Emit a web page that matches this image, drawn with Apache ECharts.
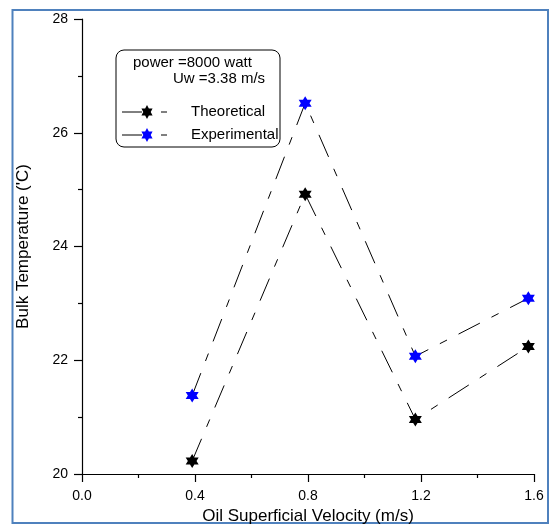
<!DOCTYPE html>
<html><head><meta charset="utf-8">
<script src="https://cdn.jsdelivr.net/npm/echarts@6/dist/echarts.min.js"></script>
<style>html,body{margin:0;padding:0;background:#fff}#c{width:551px;height:525px}</style>
</head><body><div id="c"></div>
<script>
// ---- data ----
const velocity = [0.39, 0.79, 1.18, 1.58];
const theoretical = [20.23, 24.92, 20.96, 22.24];
const experimental = [21.38, 26.52, 22.07, 23.09];
const xRange = [0, 1.6];
const xStep = 0.4;
const yRange = [20, 28];
const yStep = 2;
const seriesNames = ['Theoretical', 'Experimental'];
const noteLines = ['power =8000 watt', 'Uw =3.38 m/s'];

const FONT = '"Liberation Sans", Arial, sans-serif';
const STAR = 'path://M100,0L128.9,50L186.6,50L157.7,100L186.6,150L128.9,150L100,200L71.1,150L13.4,150L42.3,100L13.4,50L71.1,50Z';
const DASH = [24, 13, 8, 13];

const chart = echarts.init(document.getElementById('c'), null, {renderer: 'canvas'});

function axisCommon() {
  return {
    axisLine: {show: true, lineStyle: {color: '#000', width: 1.2}},
    axisTick: {show: true, inside: false, length: 8, lineStyle: {color: '#000', width: 1.2}},
    minorTick: {show: true, splitNumber: 2, length: 4, lineStyle: {color: '#000', width: 1.2}},
    splitLine: {show: false},
    minorSplitLine: {show: false},
    nameTextStyle: {color: '#000', fontSize: 17, fontFamily: FONT},
  };
}

// hexagram polygon for the legend
function starPoints(cx, cy) {
  const pts = [];
  const R = 7, r = R / Math.sqrt(3);
  for (let k = 0; k < 12; k++) {
    const a = -Math.PI / 2 + k * Math.PI / 6;
    const rad = k % 2 === 0 ? R : r;
    pts.push([cx + rad * Math.cos(a) * 0.92, cy + rad * Math.sin(a)]);
  }
  return pts;
}
const legendStar = (cx, cy, color) => ({
  type: 'polygon', shape: {points: starPoints(cx, cy)}, style: {fill: color}, z: 100
});
const legendLines = (cy) => ([
  {type: 'line', shape: {x1: 122, y1: cy, x2: 142, y2: cy}, style: {stroke: '#000', lineWidth: 1}, z: 100},
  {type: 'line', shape: {x1: 161, y1: cy, x2: 167, y2: cy}, style: {stroke: '#000', lineWidth: 1}, z: 100}
]);

const option = {
  animation: false,
  backgroundColor: '#fff',
  grid: {left: 82, right: 17, top: 19, bottom: 51, containLabel: false, outerBoundsMode: 'none'},
  xAxis: Object.assign(axisCommon(), {
    type: 'value', min: xRange[0], max: xRange[1], interval: xStep,
    name: 'Oil Superficial Velocity (m/s)', nameLocation: 'middle', nameGap: 33,
    axisLabel: {color: '#000', fontSize: 14, fontFamily: FONT, margin: 15,
      formatter: v => v.toFixed(1)}
  }),
  yAxis: Object.assign(axisCommon(), {
    type: 'value', min: yRange[0], max: yRange[1], interval: yStep,
    name: "Bulk Temperature ('C)", nameLocation: 'middle', nameGap: 50,
    axisLabel: {color: '#000', fontSize: 14, fontFamily: FONT, margin: 14}
  }),
  series: [
    {
      type: 'line', name: seriesNames[0],
      data: velocity.map((v, i) => [v, theoretical[i]]),
      symbol: STAR, symbolSize: [13, 14], showSymbol: true,
      itemStyle: {color: '#000'},
      lineStyle: {color: '#000', width: 1, type: DASH},
      z: 3
    },
    {
      type: 'line', name: seriesNames[1],
      data: velocity.map((v, i) => [v, experimental[i]]),
      symbol: STAR, symbolSize: [13, 14], showSymbol: true,
      itemStyle: {color: '#0000ff'},
      lineStyle: {color: '#000', width: 1, type: DASH},
      z: 3
    }
  ],
  graphic: [
    {type: 'rect', shape: {x: 12.5, y: 10, width: 535.5, height: 513},
     style: {fill: 'none', stroke: '#4f81bd', lineWidth: 2}, z: -10, silent: true},
    {type: 'rect', shape: {x: 116, y: 50, width: 164, height: 97, r: 8},
     style: {fill: '#fff', stroke: '#000', lineWidth: 1}, z: 90},
    {type: 'text', x: 133, y: 63, style: {text: noteLines[0], fill: '#000', font: '15px ' + FONT, verticalAlign: 'middle'}, z: 100},
    {type: 'text', x: 173, y: 79, style: {text: noteLines[1], fill: '#000', font: '15px ' + FONT, verticalAlign: 'middle'}, z: 100},
    ...legendLines(112),
    legendStar(147, 112, '#000'),
    {type: 'text', x: 191, y: 112, style: {text: seriesNames[0], fill: '#000', font: '15px ' + FONT, verticalAlign: 'middle'}, z: 100},
    ...legendLines(135),
    legendStar(147, 135, '#0000ff'),
    {type: 'text', x: 191, y: 135, style: {text: seriesNames[1], fill: '#000', font: '15px ' + FONT, verticalAlign: 'middle'}, z: 100}
  ]
};
chart.setOption(option);
</script></body></html>
